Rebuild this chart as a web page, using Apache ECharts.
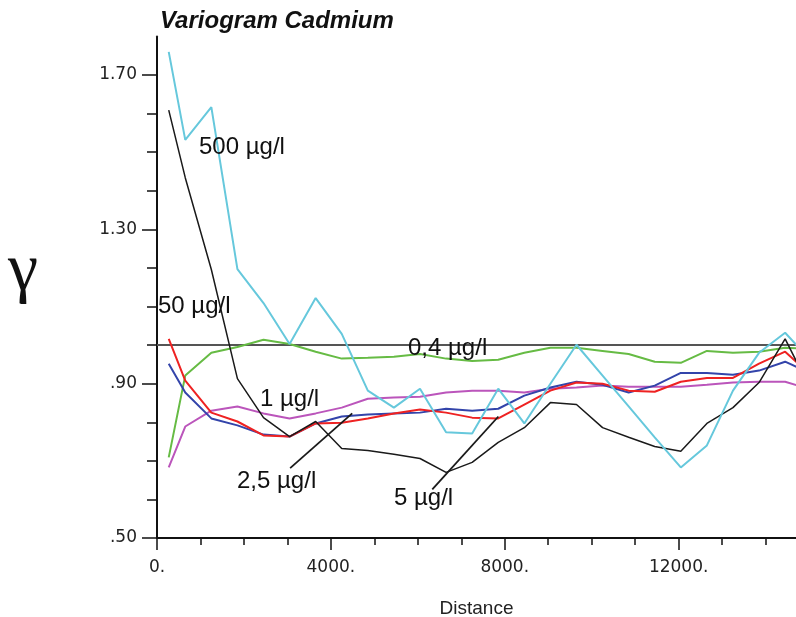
<!DOCTYPE html>
<html>
<head>
<meta charset="UTF-8">
<title>Variogram Cadmium</title>
<style>
  html, body { margin: 0; padding: 0; background: #fff; }
  #chart { width: 796px; height: 617px; }
</style>
</head>
<body>
<div id="chart"></div>
<script src="https://cdn.jsdelivr.net/npm/echarts@6/dist/echarts.min.js"></script>
<script>
// lag distances (x) shared by all curves
const lags = [270, 650, 1250, 1850, 2450, 3050, 3650, 4250, 4850, 5450, 6050, 6650, 7250,
  7850, 8450, 9050, 9650, 10250, 10850, 11450, 12050, 12650, 13250, 13850, 14450, 15050];

// semivariance per concentration threshold
const cd500 = [1.760, 1.532, 1.617, 1.197, 1.109, 1.003, 1.122, 1.029, 0.882, 0.838, 0.887, 0.774, 0.771,
  0.887, 0.797, 0.900, 1.001, 0.921, 0.841, 0.761, 0.683, 0.740, 0.882, 0.980, 1.032, 0.959];
const cd5 = [1.609, 1.434, 1.196, 0.913, 0.812, 0.763, 0.802, 0.732, 0.727, 0.717, 0.706, 0.670, 0.696,
  0.748, 0.786, 0.851, 0.846, 0.786, 0.761, 0.737, 0.725, 0.797, 0.838, 0.903, 1.016, 0.882];
const cd04 = [0.709, 0.921, 0.980, 0.995, 1.014, 1.003, 0.983, 0.965, 0.967, 0.970, 0.977, 0.965, 0.959,
  0.962, 0.980, 0.993, 0.993, 0.985, 0.977, 0.957, 0.954, 0.985, 0.980, 0.983, 0.993, 0.990];
const cd50 = [1.016, 0.908, 0.825, 0.802, 0.766, 0.763, 0.797, 0.799, 0.810, 0.823, 0.833, 0.825, 0.812,
  0.810, 0.846, 0.882, 0.903, 0.900, 0.882, 0.879, 0.905, 0.915, 0.915, 0.952, 0.983, 0.921];
const cd25 = [0.952, 0.877, 0.810, 0.792, 0.768, 0.763, 0.797, 0.815, 0.820, 0.823, 0.825, 0.835, 0.830,
  0.835, 0.869, 0.890, 0.905, 0.897, 0.877, 0.895, 0.928, 0.928, 0.923, 0.934, 0.957, 0.926];
const cd1 = [0.683, 0.789, 0.830, 0.841, 0.823, 0.810, 0.823, 0.838, 0.861, 0.864, 0.866, 0.877, 0.882,
  0.882, 0.877, 0.887, 0.890, 0.895, 0.892, 0.892, 0.892, 0.897, 0.903, 0.905, 0.905, 0.885];

const sill = 1.0;
const yTickLabels = [0.5, 0.9, 1.3, 1.7];
const yMinorTicks = [0.6, 0.7, 0.8, 1.0, 1.1, 1.2, 1.4, 1.5, 1.6];
const xTickLabels = [0, 4000, 8000, 12000];
const xMinorTicks = [1000, 2000, 3000, 5000, 6000, 7000, 9000, 10000, 11000, 13000, 14000];

// label leader lines [x, y] pairs
const leader25 = [[3063, 0.681], [4491, 0.823]];
const leader5 = [[6333, 0.626], [7853, 0.815]];

const font = "'Liberation Sans', Arial, sans-serif";
const tickFont = "'DejaVu Sans', sans-serif";

function pairs(ys) {
  return lags.map((x, i) => [x, ys[i]]);
}

function curve(data, color, width) {
  return {
    type: 'line',
    data: pairs(data),
    showSymbol: false,
    symbol: 'none',
    lineStyle: { color: color, width: width },
    z: 3
  };
}

const chart = echarts.init(document.getElementById('chart'));

chart.setOption({
  animation: false,
  backgroundColor: '#fff',
  title: {
    text: 'Variogram Cadmium',
    left: 160, top: 9, padding: 0,
    textStyle: { fontFamily: font, fontSize: 24, fontWeight: 'bold', fontStyle: 'italic', color: '#111' }
  },
  grid: { left: 157, right: 0, top: 36.5, bottom: 79, containLabel: false, outerBoundsMode: 'none' },
  xAxis: [{
    type: 'value', min: 0, max: 14700, interval: 1000,
    name: 'Distance', nameLocation: 'middle', nameGap: 61,
    nameTextStyle: { fontFamily: font, fontSize: 19, color: '#222' },
    axisLine: { lineStyle: { color: '#111', width: 2 } },
    axisTick: { customValues: xMinorTicks, length: 7, lineStyle: { color: '#111', width: 1.5 } },
    axisLabel: {
      customValues: xTickLabels, margin: 21,
      fontFamily: tickFont, fontSize: 17, color: '#222',
      formatter: v => v + '.'
    },
    splitLine: { show: false }
  }, {
    type: 'value', min: 0, max: 14700, position: 'bottom',
    axisLine: { show: false },
    axisTick: { customValues: xTickLabels, length: 12, lineStyle: { color: '#111', width: 1.5 } },
    axisLabel: { show: false },
    splitLine: { show: false }
  }],
  yAxis: [{
    type: 'value', min: 0.5, max: 1.8, interval: 0.1,
    axisLine: { show: true, lineStyle: { color: '#111', width: 2 } },
    axisTick: { show: true, customValues: yMinorTicks, length: 10, lineStyle: { color: '#111', width: 1.5 } },
    axisLabel: {
      customValues: yTickLabels, margin: 20,
      fontFamily: tickFont, fontSize: 17, color: '#222',
      formatter: v => v.toFixed(2).replace(/^0/, '')
    },
    splitLine: { show: false }
  }, {
    type: 'value', min: 0.5, max: 1.8, position: 'left',
    axisLine: { show: false },
    axisTick: { show: true, customValues: yTickLabels, length: 15, lineStyle: { color: '#111', width: 1.5 } },
    axisLabel: { show: false },
    splitLine: { show: false }
  }],
  series: [
    {
      type: 'line',
      data: [[0, sill], [14700, sill]],
      showSymbol: false, symbol: 'none',
      lineStyle: { color: '#555', width: 2 },
      z: 2
    },
    curve(cd04, '#66bb44', 2),
    curve(cd1, '#bb55bb', 2),
    curve(cd25, '#3344aa', 2),
    curve(cd50, '#ee2222', 2),
    curve(cd5, '#1a1a1a', 1.5),
    curve(cd500, '#66c8dc', 2),
    {
      type: 'line', data: leader25, showSymbol: false, symbol: 'none',
      lineStyle: { color: '#1a1a1a', width: 1.8 }, z: 4
    },
    {
      type: 'line', data: leader5, showSymbol: false, symbol: 'none',
      lineStyle: { color: '#1a1a1a', width: 1.8 }, z: 4
    }
  ],
  graphic: [
    { type: 'text', left: 8, top: 238, style: { text: 'γ', font: "68px 'Liberation Serif', serif", fill: '#111' } },
    { type: 'text', x: 199, y: 147, style: { text: '500 µg/l', font: '24px ' + font, fill: '#111', verticalAlign: 'middle' }, z: 10 },
    { type: 'text', x: 158, y: 306, style: { text: '50 µg/l', font: '24px ' + font, fill: '#111', verticalAlign: 'middle' }, z: 10 },
    { type: 'text', x: 408, y: 348, style: { text: '0,4 µg/l', font: '24px ' + font, fill: '#111', verticalAlign: 'middle' }, z: 10 },
    { type: 'text', x: 260, y: 399, style: { text: '1 µg/l', font: '24px ' + font, fill: '#111', verticalAlign: 'middle' }, z: 10 },
    { type: 'text', x: 237, y: 481, style: { text: '2,5 µg/l', font: '24px ' + font, fill: '#111', verticalAlign: 'middle' }, z: 10 },
    { type: 'text', x: 394, y: 498, style: { text: '5 µg/l', font: '24px ' + font, fill: '#111', verticalAlign: 'middle' }, z: 10 }
  ]
});
</script>
</body>
</html>
